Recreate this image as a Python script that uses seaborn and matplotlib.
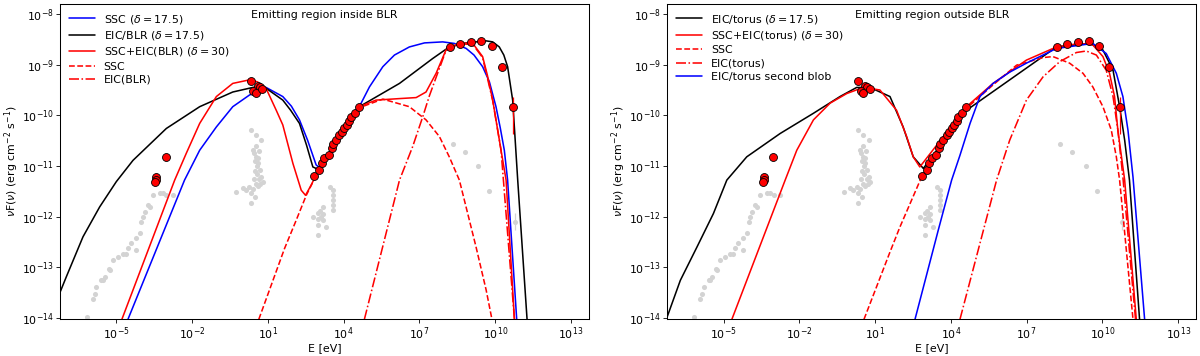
"""Blazar SED: emitting region inside / outside the BLR"""
import numpy as np
import matplotlib
matplotlib.use("Agg")
import matplotlib.pyplot as plt
import seaborn as sns

# ---- observed data (log10 E [eV], log10 nuFnu [erg cm-2 s-1]) ----
# red points (simultaneous data)
obs_loge = [-3.41, -3.41, -3.45, -3.05,
            0.34, 0.60, 0.67, 0.43, 0.54, 0.78,
            2.84, 3.04, 3.15, 3.24, 3.40, 3.53, 3.57, 3.70, 3.83, 3.94,
            4.03, 4.12, 4.23, 4.30, 4.43, 4.60,
            8.21, 8.61, 9.04, 9.45, 9.86, 10.25, 10.69]
obs_logf = [-11.22, -11.28, -11.32, -10.83,
            -9.32, -9.42, -9.44, -9.52, -9.56, -9.49,
            -11.20, -11.09, -10.95, -10.85, -10.79, -10.65, -10.57, -10.48, -10.39, -10.33,
            -10.26, -10.19, -10.11, -10.04, -9.96, -9.83,
            -8.66, -8.60, -8.56, -8.53, -8.63, -9.05, -9.84]
# fermi points with energy bins / last one with flux error
fermi_loge = [8.21, 8.61, 9.04, 9.45, 9.86, 10.25, 10.69]
fermi_logf = [-8.66, -8.60, -8.56, -8.53, -8.63, -9.05, -9.84]
fermi_logf_lo = [-8.66, -8.60, -8.56, -8.53, -8.63, -9.05, -10.36]
fermi_logf_hi = [-8.66, -8.60, -8.56, -8.53, -8.63, -9.05, -9.63]

# archival points (grey)
arch_loge = [-6.16, -5.93, -5.86, -5.79, -5.59, -5.46, -5.29, -5.13, -4.94, -4.74,
             -4.54, -4.41, -4.21, -4.08, -4.01, -3.95, -3.88, -3.75, -3.55, -3.29,
             -3.02, -2.76, -5.53, -5.26, -4.61, -4.21, -3.68, -3.16,
             0.34, 0.54, 0.74, 0.40, 0.54, 0.60, 0.67, 0.74, 0.80, 0.54,
             0.27, 0.01, -0.25, 0.34, 0.34, 0.47, 0.45, 0.50, 0.55, 0.62,
             0.58, 0.66, 0.50, 0.45, 0.40, 0.60, 0.70, 0.12, 0.52, 0.64,
             3.44, 3.57, 3.57, 3.57, 3.57, 3.57, 3.17, 3.17, 3.17, 2.97,
             2.97, 2.97, 2.78, 3.31, 2.97, 3.10, 3.05,
             8.31, 8.80, 9.33, 9.77, 10.78]
arch_logf = [-13.99, -13.62, -13.52, -13.40, -13.26, -13.19, -13.03, -12.86, -12.80, -12.73,
             -12.63, -12.53, -12.43, -12.33, -12.10, -12.00, -11.91, -11.78, -11.58, -11.54,
             -11.58, -11.58, -13.26, -13.06, -12.73, -12.66, -11.81, -11.54,
             -10.29, -10.39, -10.49, -10.69, -10.82, -10.95, -11.08, -11.22, -11.31, -11.35,
             -11.41, -11.44, -11.51, -11.54, -11.74, -11.61, -10.75, -10.90, -11.00, -10.85,
             -11.15, -11.25, -11.10, -11.25, -11.45, -11.40, -11.35, -11.48, -10.60, -10.70,
             -11.41, -11.48, -11.58, -11.68, -11.78, -11.87, -11.81, -11.94, -12.07, -11.93,
             -12.05, -12.17, -12.01, -12.20, -12.37, -12.00, -11.90,
             -10.57, -10.72, -11.00, -11.50, -12.10]

# ---- models, inside BLR ----
blr_ssc_loge = [-4.54, -2.30, -1.70, -1.04, -0.39, 0.27, 0.93, 1.59, 1.93, 2.25,
                2.57, 2.91, 3.04, 4.62, 5.02, 5.55, 6.01, 6.60, 7.20, 7.92,
                8.38, 8.85, 9.16, 9.50, 9.77, 10.03, 10.20, 10.36, 10.49, 10.85]
blr_ssc_logf = [-14.03, -11.28, -10.69, -10.23, -9.83, -9.60, -9.45, -9.63, -9.82, -10.09,
                -10.49, -10.98, -11.03, -9.83, -9.44, -9.04, -8.81, -8.65, -8.57, -8.55,
                -8.58, -8.68, -8.81, -9.04, -9.34, -9.83, -10.25, -10.69, -11.28, -14.03]

blr_eic_loge = [-7.24, -6.98, -6.32, -5.66, -5.00, -4.34, -3.02, -1.70, -0.39, 0.40,
                0.80, 1.59, 1.90, 2.25, 2.53, 2.78, 3.04, 4.62, 6.21, 7.52,
                8.18, 8.85, 9.64, 9.90, 10.16, 10.34, 10.49, 10.69, 10.79, 10.89, 11.26]
blr_eic_logf = [-13.51, -13.19, -12.40, -11.81, -11.31, -10.89, -10.26, -9.83, -9.54, -9.45,
                -9.42, -9.70, -9.90, -10.16, -10.59, -11.02, -11.08, -9.83, -9.37, -8.88,
                -8.65, -8.57, -8.53, -8.55, -8.65, -8.81, -9.04, -9.70, -10.49, -11.28, -14.03]

blr_sum_loge = [-4.78, -2.69, -2.23, -1.70, -1.04, -0.39, 0.27, 0.59, 0.93, 1.33,
                1.59, 1.99, 2.32, 2.49, 2.71, 2.91, 4.62, 5.28, 6.21, 6.87,
                7.26, 7.66, 8.05, 8.58, 9.11, 9.50, 9.69, 9.90, 10.23, 10.43, 10.76]
blr_sum_logf = [-14.03, -11.28, -10.75, -10.16, -9.63, -9.37, -9.30, -9.34, -9.47, -9.90,
                -10.19, -10.95, -11.48, -11.58, -11.38, -11.18, -9.83, -9.70, -9.67, -9.65,
                -9.54, -9.17, -8.71, -8.57, -8.58, -8.84, -9.21, -9.70, -10.69, -11.28, -14.03]

blr_sum_ssc_loge = [0.64, 1.66, 2.09, 2.52, 2.91, 4.62, 5.55, 6.60, 7.26, 7.79,
                    8.18, 8.58, 9.24, 9.64, 9.87]
blr_sum_ssc_logf = [-14.03, -12.63, -12.11, -11.58, -11.19, -9.85, -9.68, -9.83, -10.09, -10.42,
                    -10.82, -11.28, -12.60, -13.45, -14.03]

blr_sum_eic_loge = [4.82, 6.21, 6.73, 7.13, 7.39, 7.66, 8.05, 8.58, 9.11, 9.50,
                    9.90, 10.23, 10.76]
blr_sum_eic_logf = [-14.03, -11.28, -10.62, -10.03, -9.62, -9.25, -8.72, -8.59, -8.60, -8.86,
                    -9.71, -10.69, -14.03]

# ---- models, outside BLR ----
tor_eic_loge = [-7.23, -6.71, -6.05, -5.40, -4.87, -4.08, -2.76, -1.44, -0.39, 0.27,
                0.80, 1.59, 2.11, 2.51, 2.91, 4.62, 8.18, 9.49, 10.02, 10.42,
                10.68, 10.88, 11.07, 11.47]
tor_eic_logf = [-13.98, -13.26, -12.60, -11.94, -11.28, -10.82, -10.36, -9.96, -9.63, -9.45,
                -9.45, -9.63, -10.23, -10.82, -11.05, -9.90, -8.65, -8.58, -8.71, -9.11,
                -9.83, -10.49, -11.28, -14.03]

tor_sum_loge = [-4.67, -2.56, -2.10, -1.44, -0.78, -0.12, 0.53, 1.19, 1.85, 2.25,
                2.51, 2.77, 4.62, 5.67, 6.99, 8.18, 9.10, 9.62, 10.02, 10.28,
                10.48, 10.61, 10.88, 11.34]
tor_sum_logf = [-14.03, -11.28, -10.69, -10.09, -9.76, -9.57, -9.45, -9.50, -9.90, -10.42,
                -10.82, -11.02, -9.83, -9.37, -8.91, -8.65, -8.58, -8.61, -8.84, -9.17,
                -9.63, -10.29, -11.28, -14.03]

tor_sum_ssc_loge = [0.56, 1.59, 1.98, 2.84, 4.62, 5.67, 6.60, 7.65, 8.04, 8.70,
                    9.23, 9.62, 10.02, 10.35, 10.55, 10.68, 11.21]
tor_sum_ssc_logf = [-14.03, -12.70, -12.21, -11.22, -9.86, -9.40, -9.01, -8.86, -8.84, -8.97,
                    -9.17, -9.44, -9.83, -10.29, -10.82, -11.28, -14.03]

tor_sum_eic_loge = [4.36, 5.81, 6.33, 6.99, 7.65, 8.31, 8.97, 9.36, 9.76, 10.15,
                    10.42, 10.61, 10.81, 11.31]
tor_sum_eic_logf = [-14.03, -11.28, -10.49, -9.70, -9.24, -8.94, -8.76, -8.73, -8.81, -9.11,
                    -9.63, -10.29, -11.22, -14.03]

tor_blob2_loge = [2.58, 3.50, 4.03, 4.36, 4.76, 5.15, 5.67, 6.32, 6.99, 8.18,
                  9.62, 10.15, 10.55, 10.81, 11.01, 11.21, 11.67]
tor_blob2_logf = [-14.03, -12.27, -11.28, -10.79, -10.16, -9.63, -9.37, -9.15, -8.97, -8.68,
                  -8.58, -8.78, -9.17, -9.63, -10.29, -11.22, -14.03]

inside_curves = [
    (blr_ssc_loge, blr_ssc_logf, 'blue', '-', r'SSC ($\delta = 17.5$)'),
    (blr_eic_loge, blr_eic_logf, 'black', '-', r'EIC/BLR ($\delta = 17.5$)'),
    (blr_sum_loge, blr_sum_logf, 'red', '-', r'SSC+EIC(BLR) ($\delta = 30$)'),
    (blr_sum_ssc_loge, blr_sum_ssc_logf, 'red', '--', 'SSC'),
    (blr_sum_eic_loge, blr_sum_eic_logf, 'red', '-.', 'EIC(BLR)'),
]
outside_curves = [
    (tor_eic_loge, tor_eic_logf, 'black', '-', r'EIC/torus ($\delta = 17.5$)'),
    (tor_sum_loge, tor_sum_logf, 'red', '-', r'SSC+EIC(torus) ($\delta = 30$)'),
    (tor_sum_ssc_loge, tor_sum_ssc_logf, 'red', '--', 'SSC'),
    (tor_sum_eic_loge, tor_sum_eic_logf, 'red', '-.', 'EIC(torus)'),
    (tor_blob2_loge, tor_blob2_logf, 'blue', '-', 'EIC/torus second blob'),
]


def draw_panel(ax, curves, title):
    """SED panel: archival data, models, simultaneous data"""
    ax.set_xscale('log')
    ax.set_yscale('log')

    #archival data in grey under everything
    sns.scatterplot(x=10.0 ** np.array(arch_loge), y=10.0 ** np.array(arch_logf), ax=ax,
                    color='lightgray', s=24, linewidth=0, zorder=1)
    ax.errorbar(10.0 ** 10.78, 10.0 ** -12.10,
                yerr=[[10.0 ** -12.10 - 10.0 ** -12.27], [10.0 ** -11.93 - 10.0 ** -12.10]],
                fmt='none', ecolor='lightgray', elinewidth=1.2, zorder=1)

    #model curves
    for loge, logf, color, ls, label in curves:
        sns.lineplot(x=10.0 ** np.array(loge), y=10.0 ** np.array(logf), ax=ax, color=color,
                     linestyle=ls, linewidth=1.5, label=label, sort=False, estimator=None,
                     zorder=2)

    #simultaneous data
    fe = 10.0 ** np.array(fermi_loge)
    ff = 10.0 ** np.array(fermi_logf)
    ax.errorbar(fe, ff,
                xerr=[fe - fe / 10 ** 0.15, fe * 10 ** 0.15 - fe],
                yerr=[ff - 10.0 ** np.array(fermi_logf_lo), 10.0 ** np.array(fermi_logf_hi) - ff],
                fmt='none', ecolor='red', elinewidth=1.2, zorder=3)
    sns.scatterplot(x=10.0 ** np.array(obs_loge), y=10.0 ** np.array(obs_logf), ax=ax,
                    color='red', edgecolor='black', linewidth=0.8, s=58, zorder=4)

    ax.set_xlim(10.0 ** -7.23, 10.0 ** 13.72)
    ax.set_ylim(10.0 ** -14.03, 10.0 ** -7.80)
    ax.set_xticks(10.0 ** np.arange(-5, 14, 3))
    ax.set_yticks(10.0 ** np.arange(-14, -7))
    ax.minorticks_off()
    ax.tick_params(axis='both', pad=2.5)
    ax.set_xlabel('E [eV]', labelpad=1)
    ax.set_ylabel(r'$\nu$F($\nu$) (erg cm$^{-2}$ s$^{-1}$)', labelpad=1)
    ax.text(0.5, 0.965, title, transform=ax.transAxes, ha='center', va='center')
    ax.legend(loc='upper left', frameon=False, handlelength=2.4, labelspacing=0.3,
              borderaxespad=0.4)


def main():
    sns.set_style('ticks', {'axes.edgecolor': 'black', 'xtick.color': 'black',
                            'ytick.color': 'black', 'text.color': 'black',
                            'axes.labelcolor': 'black'})
    plt.rcParams['font.family'] = ['DejaVu Sans']
    plt.rcParams['font.size'] = 10.5
    plt.rcParams['axes.linewidth'] = 1.0

    fig = plt.figure(figsize=(16, 356 / 75), dpi=75)
    ax1 = fig.add_axes([0.05, 0.103, 0.441, 0.886])
    ax2 = fig.add_axes([0.556, 0.103, 0.441, 0.886])

    draw_panel(ax1, inside_curves, 'Emitting region inside BLR')
    draw_panel(ax2, outside_curves, 'Emitting region outside BLR')

    fig.savefig('out.png', dpi=75)


if __name__ == '__main__':
    main()
